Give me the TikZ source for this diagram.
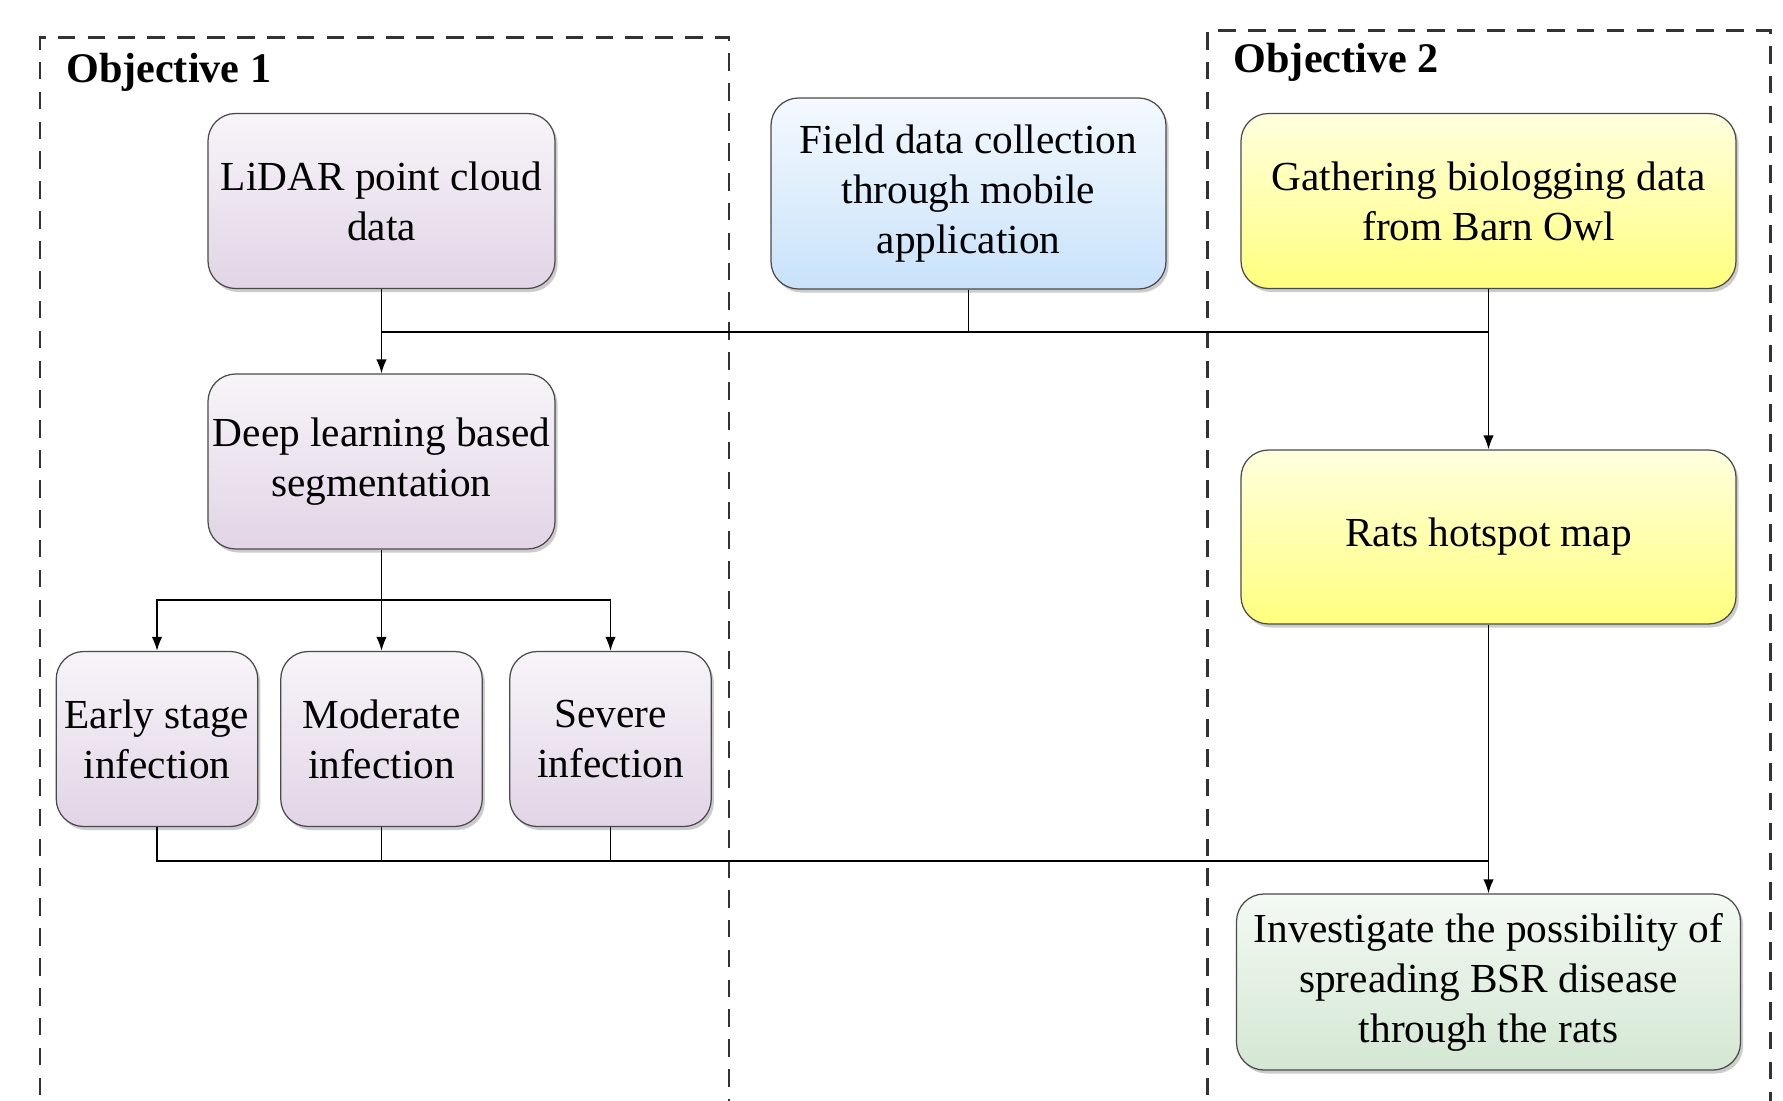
\documentclass[tikz,border=0pt]{standalone}
\usepackage{fontspec}
\setmainfont{Liberation Serif}
\usepackage{tikz}
\usetikzlibrary{arrows.meta,positioning,shadows}
\definecolor{Lilac}{HTML}{E1D4E6}
\definecolor{SkyBlue}{HTML}{C8E2FA}
\definecolor{Lemon}{HTML}{FFFF7E}
\definecolor{Sage}{HTML}{D3E7D2}
\definecolor{Edge}{HTML}{4A4A4A}

\begin{document}
\begin{tikzpicture}[font=\fontsize{23.5}{28.5}\selectfont, >={Latex[length=8pt,width=6pt]}]
\tikzset{glass/.style={draw=Edge, line width=0.7pt, rounded corners=0.55cm, align=center, inner sep=2pt, drop shadow={opacity=0.4, shadow xshift=1.5pt, shadow yshift=-2pt}}, purp/.style={glass, top color=Lilac!25, middle color=Lilac, bottom color=Lilac}, blu/.style={glass, top color=SkyBlue!20, middle color=SkyBlue, bottom color=SkyBlue}, yel/.style={glass, top color=Lemon!25, middle color=Lemon, bottom color=Lemon}, grn/.style={glass, top color=Sage!25, middle color=Sage, bottom color=Sage}, frame/.style={draw=black!80, line width=1.3pt, dash pattern=on 10pt off 7pt}, link/.style={draw=black, line width=0.9pt}, objlabel/.style={anchor=west, font=\fontsize{24}{28}\selectfont\bfseries}}
\useasboundingbox (0,0) rectangle (35.66,-22);
% objective frames
\draw[frame] (0.8,-22.5) -- (0.8,-0.75) -- (14.58,-0.75) -- (14.58,-22.5);
\draw[frame] (24.15,-22.5) -- (24.15,-0.61) -- (35.41,-0.61) -- (35.41,-22.5);
\node[objlabel] (obj1) at (1.2,-1.44) {Objective 1};
\node[objlabel] (obj2) at (24.55,-1.25) {Objective 2};
% boxes
\node[purp, minimum width=6.94cm, minimum height=3.5cm] (lidar) at (7.63,-4.02) {LiDAR point cloud\\data};
\node[blu, minimum width=7.9cm, minimum height=3.82cm] (field) at (19.37,-3.87) {Field data collection\\through mobile\\application};
\node[yel, minimum width=9.9cm, minimum height=3.5cm] (gather) at (29.77,-4.02) {Gathering biologging data\\from Barn Owl};
\node[purp, minimum width=6.94cm, minimum height=3.5cm] (deep) at (7.63,-9.23) {Deep learning based\\segmentation};
\node[purp, minimum width=4.03cm, minimum height=3.5cm] (early) at (3.14,-14.78) {Early stage\\infection};
\node[purp, minimum width=4.03cm, minimum height=3.5cm] (moderate) at (7.63,-14.78) {Moderate\\infection};
\node[purp, minimum width=4.03cm, minimum height=3.5cm] (severe) at (12.21,-14.78) {Severe\\infection};
\node[yel, minimum width=9.9cm, minimum height=3.48cm] (rats) at (29.77,-10.74) {Rats hotspot map};
\node[grn, minimum width=10.08cm, minimum height=3.52cm] (invest) at (29.77,-19.64) {Investigate the possibility of\\spreading BSR disease\\through the rats};
% connectors
\coordinate (bus1) at (29.77,-6.64);
\coordinate (split) at (7.63,-12.0);
\coordinate (bus2) at (29.77,-17.22);
\draw[link] (field.south) |- (bus1);
\draw[link] (field.south) |- (lidar.south |- bus1);
\draw[link,->] (lidar) -- (deep);
\draw[link,->] (gather) -- (rats);
\draw[link] (deep) -- (split);
\draw[link,->] (split) -| (early);
\draw[link,->] (split) -| (severe);
\draw[link,->] (split) -- (moderate);
\draw[link] (early) |- (bus2);
\draw[link] (moderate) -- (moderate |- bus2);
\draw[link] (severe) -- (severe |- bus2);
\draw[link,->] (rats) -- (invest);
\end{tikzpicture}
\end{document}
